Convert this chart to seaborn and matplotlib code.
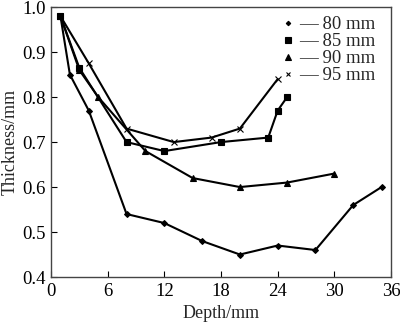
import matplotlib
matplotlib.use("Agg")
import matplotlib.pyplot as plt
from matplotlib.lines import Line2D
import seaborn as sns
import pandas as pd

depth_80 = [1, 2, 4, 8, 12, 16, 20, 24, 28, 32, 35]
thick_80 = [0.98, 0.85, 0.77, 0.54, 0.52, 0.48, 0.45, 0.47, 0.46, 0.56, 0.60]
depth_85 = [1, 3, 8, 12, 18, 23, 24, 25]
thick_85 = [0.98, 0.865, 0.70, 0.68, 0.70, 0.71, 0.77, 0.80]
depth_90 = [1, 3, 5, 10, 15, 20, 25, 30]
thick_90 = [0.98, 0.86, 0.80, 0.68, 0.62, 0.60, 0.61, 0.63]
depth_95 = [1, 4, 8, 13, 17, 20, 24]
thick_95 = [0.98, 0.875, 0.73, 0.70, 0.71, 0.73, 0.84]

series_names = ["80 mm", "85 mm", "90 mm", "95 mm"]
x_ticks = [0, 6, 12, 18, 24, 30, 36]
y_ticks = [0.4, 0.5, 0.6, 0.7, 0.8, 0.9, 1.0]

frames = []
for name, xs, ys in zip(series_names,
                        [depth_80, depth_85, depth_90, depth_95],
                        [thick_80, thick_85, thick_90, thick_95]):
    frames.append(pd.DataFrame({"Depth": xs, "Thickness": ys, "series": name}))
df = pd.concat(frames, ignore_index=True)

sns.set_style("ticks")
plt.rcParams['font.family'] = ['Liberation Serif', 'DejaVu Serif']

fig = plt.figure(figsize=(4.0, 3.24), dpi=100)
ax = fig.add_axes([0.1275, 0.145, 0.85, 0.833])

markers = {"80 mm": "D", "85 mm": "s", "90 mm": "^", "95 mm": "x"}
sizes = {"80 mm": 3, "85 mm": 5, "90 mm": 5, "95 mm": 4.5}
for name in series_names:
    sub = df[df["series"] == name]
    sns.lineplot(data=sub, x="Depth", y="Thickness", ax=ax, color="black",
                 marker=markers[name], markersize=sizes[name],
                 markeredgecolor="black", markerfacecolor="black",
                 markeredgewidth=0.8,
                 linewidth=1.5, sort=False, legend=False, estimator=None)

ax.set_xlim(0, 36)
ax.set_ylim(0.4, 1.0)
ax.set_xticks(x_ticks)
ax.set_xticklabels([str(t) for t in x_ticks])
ax.set_yticks(y_ticks)
ax.set_yticklabels([f"{t:.1f}" for t in y_ticks])
ax.tick_params(direction="in", length=4, width=0.8, labelsize=13.5,
               colors="black", pad=4)
for sp in ax.spines.values():
    sp.set_visible(True)
    sp.set_color("#444444")
    sp.set_linewidth(1.0)

ax.set_xlabel("Depth/mm", fontsize=13, labelpad=4)
ax.set_ylabel("Thickness/mm", fontsize=13, labelpad=2)

handles = [Line2D([], [], linestyle="none", marker=markers[n],
                  markersize=sizes[n] * 0.75, color="black",
                  markeredgewidth=0.8) for n in series_names]
labels = ["\u2014 " + n for n in series_names]
ax.legend(handles, labels, loc="upper right", frameon=False, fontsize=13.5,
          handlelength=0.5, handletextpad=0.3, labelspacing=0.0,
          borderaxespad=0.0, bbox_to_anchor=(0.975, 0.995))

fig.savefig("out.png", dpi=100)
